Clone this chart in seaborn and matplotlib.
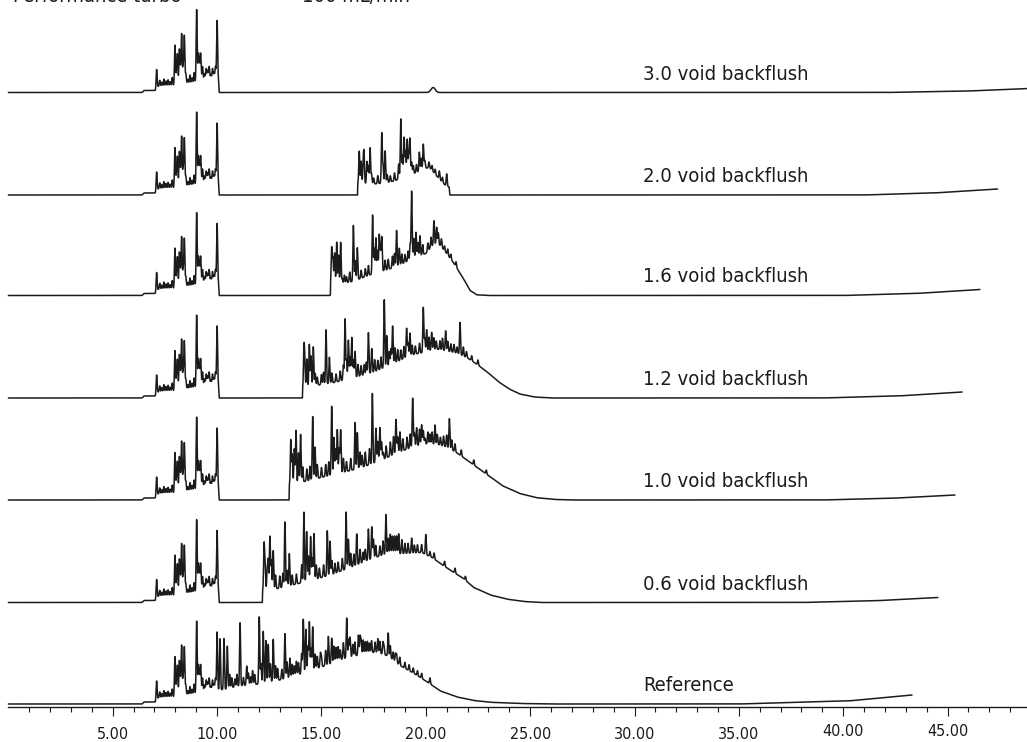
import numpy as np
import matplotlib
matplotlib.use("Agg")
import matplotlib.pyplot as plt
import matplotlib.transforms as mtransforms
import matplotlib.font_manager as fm
from matplotlib.ticker import FixedLocator, FixedFormatter
import seaborn as sns

# ---------------- data ----------------
LABELS = ["3.0 void backflush", "2.0 void backflush", "1.6 void backflush",
          "1.2 void backflush", "1.0 void backflush", "0.6 void backflush", "Reference"]
OFFSETS = [614.5, 512, 411.5, 309, 207, 104.5, 3]          # trace baselines
END_T = [48.9, 47.4, 46.55, 45.7, 45.36, 44.54, 43.3]       # run end (min)
END_RISE = [4, 6, 6, 6, 5, 5, 9]                            # baseline drift at end
DRIFT_START = [42, 41, 40, 39, 39, 38, 35]

# common early part (before the backflush valve switches)
EARLY_BASE_T = [0, 6.40, 6.50, 7.05, 7.15, 7.90, 8.50, 8.95, 9.30, 9.95, 10.06]
EARLY_BASE_H = [0, 0, 2, 2, 6, 7, 9, 10, 14, 14, 14]
EARLY_PEAK_T = [7.10, 7.35, 7.55, 7.75, 7.98, 8.10, 8.19, 8.30, 8.43, 8.60, 8.80,
                9.02, 9.10, 9.21, 9.40, 9.55, 9.70, 9.85, 10.00,
                7.25, 7.45, 7.65, 7.85, 8.05, 8.24, 8.37, 8.50, 8.70, 8.90, 9.15,
                9.30, 9.48, 9.62, 9.78, 9.92]
EARLY_PEAK_H = [19, 4, 5, 4, 40, 30, 34, 50, 48, 4, 5, 72, 26, 26, 5, 8, 4, 6, 58,
                6, 7, 6, 8, 12, 15, 18, 10, 8, 10, 16, 12, 10, 12, 10, 12]

# 3.0 void backflush
T30_HUMP_T = [10.10, 20.0]
T30_HUMP_H = [0, 0]
T30_PEAK_T = [20.35]
T30_PEAK_H = [5]

# 2.0 void backflush
T20_HUMP_T = [10.10, 16.73, 16.74, 17.5, 18.0, 18.5, 19.0, 19.5, 20.0, 20.2, 20.52, 20.92, 21.12, 21.15]
T20_HUMP_H = [0, 0, 12, 11, 12, 14, 19, 22, 27, 27, 19, 10, 8, 0]
T20_PEAK_T = [16.81, 17.04, 17.33, 17.5, 17.7, 17.89, 18.05, 18.3, 18.5, 18.80, 18.96, 19.11,
              19.24, 19.4, 19.69, 19.88, 20.3, 20.65, 21.00,
              16.9, 17.0, 17.18, 17.25, 17.4, 17.95, 18.15, 18.7, 18.88, 19.03, 19.18,
              19.32, 19.55, 19.78, 19.95, 20.15, 20.45, 20.8]
T20_PEAK_H = [32, 28, 36, 6, 8, 50, 32, 6, 8, 59, 39, 36, 36, 8, 19, 25, 5, 8, 12,
              22, 20, 22, 18, 10, 18, 8, 15, 22, 25, 20, 12, 8, 12, 8, 6, 5, 5]

# 1.6 void backflush
T16_HUMP_T = [10.10, 15.43, 15.44, 16.0, 16.5, 17.0, 17.5, 18.0, 18.5, 19.0, 19.5, 20.0,
              20.4, 20.7, 21.32, 21.8, 22.12, 22.44, 23.0]
T16_HUMP_H = [0, 0, 13, 12, 14, 18, 22, 25, 28, 33, 38, 42, 52, 50, 33, 17, 5, 0.7, 0]
T16_PEAK_T = [15.49, 15.73, 15.92, 16.0, 16.2, 16.53, 16.72, 17.1, 17.45, 17.61, 17.77, 17.89,
              18.2, 18.60, 18.73, 19.0, 19.32, 19.53, 19.72, 20.1, 20.39, 20.52, 20.9, 21.2,
              15.55, 15.63, 15.82, 16.1, 16.35, 16.62, 16.9, 17.25, 17.53, 17.69, 17.83,
              18.05, 18.4, 18.5, 18.85, 19.15, 19.25, 19.42, 19.62, 19.85, 20.25, 20.6,
              20.75, 21.05, 21.45]
T16_PEAK_H = [35, 41, 41, 5, 6, 56, 32, 8, 59, 35, 37, 34, 10, 36, 17, 8, 68, 25, 20, 8,
              23, 17, 5, 5,
              25, 30, 28, 8, 10, 20, 8, 10, 25, 22, 20, 10, 12, 14, 10, 10, 16, 20, 14,
              10, 10, 12, 8, 6, 5]

# 1.2 void backflush
T12_HUMP_T = [10.10, 14.09, 14.10, 14.5, 15.5, 16.5, 17.5, 18.3, 19.0, 19.5, 20.0, 20.5,
              21.0, 21.5, 22.0, 22.5, 23.0, 23.5, 24.0, 24.5, 25.2, 26.0]
T12_HUMP_H = [0, 0, 10, 12, 15, 20, 26, 33, 40, 44, 46, 49, 47, 45, 40, 33, 25, 16, 9,
              4, 1, 0]
T12_PEAK_T = [14.16, 14.42, 14.61, 14.8, 15.22, 15.38, 15.7, 16.13, 16.29, 16.45, 16.61,
              16.9, 17.25, 17.41, 17.7, 18.01, 18.13, 18.41, 18.52, 18.8, 19.08, 19.24,
              19.5, 19.88, 20.04, 20.28, 20.5, 20.68, 20.95, 21.2, 21.64, 21.80, 22.5,
              14.2, 14.3, 14.5, 14.7, 15.0, 15.1, 15.5, 15.9, 16.05, 16.2, 16.37, 16.53,
              16.75, 17.05, 17.15, 17.55, 17.85, 18.25, 18.33, 18.65, 18.95, 19.15, 19.35,
              19.7, 19.95, 20.15, 20.38, 20.8, 21.05, 21.35, 21.5, 21.95, 22.2]
T12_PEAK_H = [38, 42, 39, 8, 54, 26, 8, 61, 39, 41, 26, 10, 41, 24, 10, 68, 31, 38, 15,
              10, 29, 23, 8, 45, 22, 18, 8, 9, 20, 8, 32, 9, 5,
              25, 28, 30, 12, 10, 12, 10, 10, 15, 20, 22, 18, 12, 10, 12, 12, 12, 14, 16,
              12, 12, 14, 10, 10, 14, 14, 12, 12, 10, 8, 6, 6, 5]

# 1.0 void backflush
T10_HUMP_T = [10.10, 13.45, 13.46, 14.5, 15.5, 16.5, 17.0, 17.5, 18.0, 18.5, 19.0, 19.5,
              20.0, 20.5, 21.0, 21.5, 22.1, 22.9, 23.7, 24.5, 25.3, 26.2, 27.0]
T10_HUMP_H = [0, 0, 15, 20, 25, 30, 33, 37, 41, 46, 50, 54, 56, 56, 53, 47, 38, 26, 14,
              6.5, 2.3, 0.5, 0]
T10_PEAK_T = [13.53, 13.78, 14.00, 14.58, 14.69, 15.0, 15.49, 15.60, 15.76, 15.92, 16.2,
              16.61, 16.72, 16.85, 17.44, 17.61, 17.80, 17.96, 18.57, 18.76, 19.37, 19.56,
              19.80, 19.96, 20.2, 20.44, 20.7, 21.13, 21.24, 22.9,
              13.6, 13.7, 13.9, 14.1, 14.3, 14.45, 14.8, 15.2, 15.35, 15.68, 15.85, 16.05,
              16.4, 16.95, 17.1, 17.3, 17.7, 17.88, 18.1, 18.3, 18.45, 18.65, 18.9, 19.1,
              19.25, 19.45, 19.7, 19.88, 20.1, 20.3, 20.55, 20.85, 21.0, 21.4, 21.7, 22.3]
T10_PEAK_H = [45, 53, 48, 63, 32, 10, 69, 37, 44, 43, 10, 47, 36, 16, 70, 34, 33, 7, 34,
              20, 49, 18, 20, 6, 10, 19, 8, 30, 10, 4,
              30, 35, 30, 15, 12, 14, 14, 12, 14, 25, 25, 14, 12, 12, 14, 16, 20, 18, 12,
              14, 18, 16, 12, 12, 14, 14, 16, 14, 12, 12, 10, 10, 12, 8, 6, 5]

# 0.6 void backflush
T06_HUMP_T = [10.10, 12.17, 12.18, 12.5, 13.5, 14.5, 15.5, 16.5, 17.3, 18.0, 19.0, 19.8,
              20.3, 20.7, 21.2, 21.8, 22.3, 23.1, 23.9, 24.7, 25.5]
T06_HUMP_H = [0, 0, 12, 12, 17, 22, 28, 36, 43, 48, 49, 50, 45, 39, 32, 24, 15, 7.5, 3.3, 1, 0]
T06_PEAK_T = [12.25, 12.40, 12.53, 12.69, 13.25, 13.46, 13.8, 14.16, 14.29, 14.48, 14.64,
              14.9, 15.28, 15.41, 15.8, 16.18, 16.29, 16.69, 17.0, 17.25, 17.41, 17.49,
              17.8, 18.09, 18.3, 18.5, 18.7, 18.85, 19.32, 19.6, 20.0, 20.2, 21.9,
              12.3, 12.45, 12.6, 12.8, 13.0, 13.15, 13.35, 13.6, 14.05, 14.38, 14.56,
              14.75, 15.1, 15.5, 15.65, 16.0, 16.4, 16.55, 16.85, 17.1, 17.6, 17.95,
              18.2, 18.4, 18.6, 19.0, 19.15, 19.45, 19.8, 20.4, 20.9, 21.4]
T06_PEAK_H = [46, 20, 54, 39, 65, 32, 10, 70, 50, 44, 46, 10, 45, 34, 10, 57, 29, 31, 10,
              31, 32, 19, 10, 40, 20, 18, 20, 14, 15, 8, 20, 5, 4,
              25, 30, 30, 14, 12, 14, 16, 10, 18, 25, 22, 14, 12, 14, 10, 12, 14, 12, 14,
              12, 12, 14, 16, 18, 18, 10, 10, 8, 8, 6, 5, 5]

# Reference (no backflush)
REF_HUMP_T = [10.5, 11.0, 12.0, 13.0, 14.0, 15.0, 16.0, 17.0, 17.6, 18.2, 18.8, 19.4,
              20.0, 20.7, 21.5, 22.3, 23.1, 24.5, 26.0]
REF_HUMP_H = [15, 18, 20, 24, 30, 37, 45, 50, 52, 48, 38, 31, 23, 13, 7, 3.5, 1.7, 0.5, 0]
REF_PEAK_T = [10.14, 10.33, 10.49, 10.7, 10.85, 11.10, 11.26, 11.42, 11.6, 11.8, 12.02,
              12.21, 12.34, 12.45, 12.69, 12.9, 13.1, 13.25, 13.49, 13.7, 13.9, 14.13,
              14.25, 14.42, 14.58, 14.8, 15.0, 15.33, 15.49, 15.7, 15.9, 16.21, 16.37,
              16.5, 16.77, 16.9, 17.1, 17.3, 17.57, 17.8, 18.0, 18.20, 18.44, 18.6,
              19.0, 19.6, 20.2,
              10.6, 10.95, 11.5, 11.7, 12.1, 12.55, 12.8, 13.35, 13.6, 13.8, 14.05, 14.35,
              14.5, 14.7, 14.95, 15.2, 15.6, 15.8, 16.05, 16.3, 16.6, 16.85, 17.0, 17.2,
              17.4, 17.7, 17.95, 18.3, 18.55, 18.75, 19.2, 19.4, 19.8]
REF_PEAK_H = [51, 51, 43, 10, 8, 63, 8, 19, 8, 10, 67, 52, 42, 38, 42, 12, 10, 45, 19,
              10, 12, 54, 43, 49, 43, 12, 10, 28, 25, 14, 10, 40, 20, 12, 20, 14, 12, 10,
              10, 12, 8, 23, 8, 8, 6, 5, 6,
              14, 12, 12, 14, 20, 18, 15, 16, 12, 14, 20, 25, 22, 15, 14, 15, 16, 14, 16,
              18, 14, 18, 14, 12, 12, 14, 12, 12, 8, 8, 6, 5, 5]

HUMP_T = [T30_HUMP_T, T20_HUMP_T, T16_HUMP_T, T12_HUMP_T, T10_HUMP_T, T06_HUMP_T, REF_HUMP_T]
HUMP_H = [T30_HUMP_H, T20_HUMP_H, T16_HUMP_H, T12_HUMP_H, T10_HUMP_H, T06_HUMP_H, REF_HUMP_H]
PEAK_T = [T30_PEAK_T, T20_PEAK_T, T16_PEAK_T, T12_PEAK_T, T10_PEAK_T, T06_PEAK_T, REF_PEAK_T]
PEAK_H = [T30_PEAK_H, T20_PEAK_H, T16_PEAK_H, T12_PEAK_H, T10_PEAK_H, T06_PEAK_H, REF_PEAK_H]

MAJOR_TICKS = [5, 10, 15, 20, 25, 30, 35, 40, 45]
MAJOR_LABELS = ["5.00", "10.00", "15.00", "20.00", "25.00", "30.00", "35.00", "40.00", "45.00"]
MINOR_TICKS = [m for m in range(1, 49) if m % 5 != 0]

TITLE_LEFT = "Performance turbo"
TITLE_RIGHT = "100 mL/min"

# ---------------- fonts ----------------
sns.set_style("white")
files = [f.fname for f in fm.fontManager.ttflist]
if any("LiberationSansNarrow-Regular" in f for f in files):
    FONT, STRETCH, LAB_FS, TICK_FS = ["Liberation Sans Narrow", "DejaVu Sans"], "normal", 17, 13
elif any("DejaVuSansCondensed.ttf" in f for f in files):
    FONT, STRETCH, LAB_FS, TICK_FS = ["DejaVu Sans", "Liberation Sans"], "condensed", 14.5, 11.5
else:
    FONT, STRETCH, LAB_FS, TICK_FS = ["Liberation Sans", "DejaVu Sans"], "normal", 15, 11.5
plt.rcParams["font.family"] = FONT
plt.rcParams["font.stretch"] = STRETCH
INK = "#1c1a1a"

# ---------------- drawing ----------------
fig = plt.figure(figsize=(10.27, 7.42), dpi=100)
ax = fig.add_axes([0, 35 / 742, 1, 707 / 742])
PX = 20.87
x0 = -8.4 / PX
x1 = (1027 - 8.4) / PX
ax.set_xlim(x0, x1)
ax.set_ylim(0, 707)

SIG = 0.023
for i, lab in enumerate(LABELS):
    t = np.arange(0, END_T[i], 0.004)
    bt = EARLY_BASE_T + list(HUMP_T[i])
    bh = EARLY_BASE_H + list(HUMP_H[i])
    y = np.interp(t, bt, bh)
    pts = EARLY_PEAK_T + list(PEAK_T[i])
    phs = EARLY_PEAK_H + list(PEAK_H[i])
    for pt, ph in zip(pts, phs):
        s = 0.1 if (i == 0 and pt > 15) else SIG
        y = y + ph * np.exp(-0.5 * ((t - pt) / s) ** 2)
    y = y + np.interp(t, [DRIFT_START[i], END_T[i] - 3, END_T[i]],
                      [0, END_RISE[i] * 0.35, END_RISE[i]])
    sns.lineplot(x=t, y=y + OFFSETS[i], ax=ax, color=INK, linewidth=1.1,
                 estimator=None, sort=False, legend=False)
    ax.text(30.4, OFFSETS[i] + 13, lab, fontsize=LAB_FS, color=INK, ha="left",
            va="baseline", family=FONT, fontstretch=STRETCH)

ax.text(0.22, 705.5, TITLE_LEFT, fontsize=LAB_FS, color=INK, va="baseline", family=FONT,
        fontstretch=STRETCH, clip_on=False)
ax.text(14.06, 705.5, TITLE_RIGHT, fontsize=LAB_FS, color=INK, va="baseline", family=FONT,
        fontstretch=STRETCH, clip_on=False)

for sp in ["top", "right", "left"]:
    ax.spines[sp].set_visible(False)
ax.spines["bottom"].set_color(INK)
ax.spines["bottom"].set_linewidth(1.0)
ax.spines["bottom"].set_bounds(0, x1)
ax.set_yticks([])
ax.xaxis.set_major_locator(FixedLocator(MAJOR_TICKS))
ax.xaxis.set_major_formatter(FixedFormatter(MAJOR_LABELS))
ax.xaxis.set_minor_locator(FixedLocator(MINOR_TICKS))
ax.tick_params(axis="x", which="major", direction="out", length=6.5, width=0.8,
               color=INK, pad=8, labelsize=TICK_FS, labelcolor=INK, bottom=True)
ax.tick_params(axis="x", which="minor", direction="out", length=3.6, width=0.8,
               color=INK, bottom=True)
for lbl in ax.get_xticklabels():
    lbl.set_family(FONT)
    lbl.set_stretch(STRETCH)
    if lbl.get_text() in ("40.00", "45.00"):
        lbl.set_transform(lbl.get_transform() +
                          mtransforms.ScaledTranslation(0, 3 / 100, fig.dpi_scale_trans))
ax.set_xlabel("")
ax.set_ylabel("")

fig.savefig("out.png", dpi=100)
